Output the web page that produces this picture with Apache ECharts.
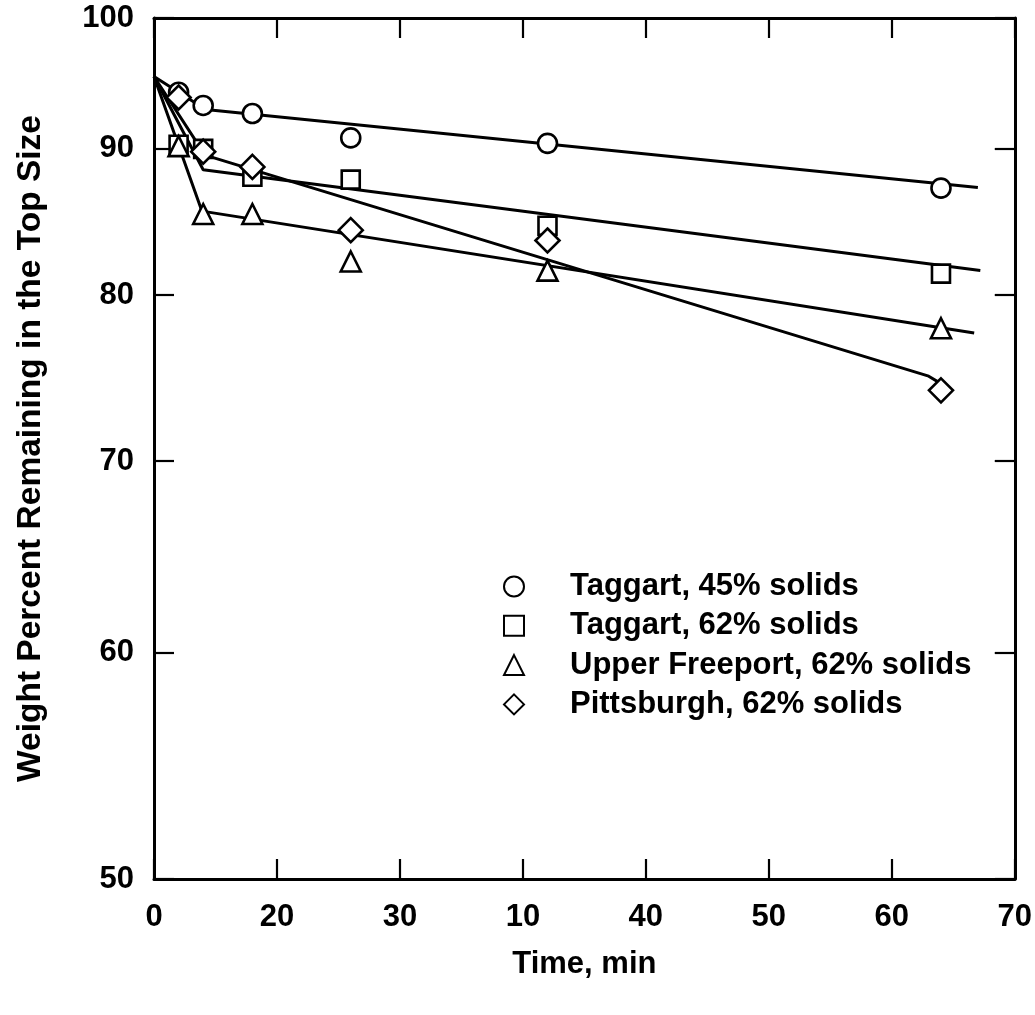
<!DOCTYPE html>
<html>
<head>
<meta charset="utf-8">
<script src="https://cdn.jsdelivr.net/npm/echarts@6/dist/echarts.min.js"></script>
<style>
  html, body { margin: 0; padding: 0; background: #fff; }
  #chart { width: 1035px; height: 1015px; }
</style>
</head>
<body>
<div id="chart"></div>
<script>
// ---- data ----
var times = [2, 4, 8, 16, 32, 64];
var taggart45 = [94.2, 93.2, 92.6, 90.8, 90.4, 87.2];
var taggart62 = [90.3, 90.0, 88.0, 87.8, 84.6, 81.4];
var upperFreeport62 = [90.2, 85.4, 85.4, 82.2, 81.6, 77.9];
var pittsburgh62 = [93.8, 89.8, 88.7, 84.3, 83.6, 74.1];

// fitted lines (x, y)
var fitTaggart45X = [0, 4.2, 67];
var fitTaggart45Y = [95.4, 92.9, 87.25];
var fitTaggart62X = [0, 4.0, 67.2];
var fitTaggart62Y = [95.4, 88.5, 81.6];
var fitUpperFreeportX = [0, 3.9, 66.7];
var fitUpperFreeportY = [95.4, 85.6, 77.6];
var fitPittsburghX = [0, 4.15, 63.0, 64];
var fitPittsburghY = [95.4, 89.55, 74.95, 74.5];

var seriesNames = ['Taggart, 45% solids', 'Taggart, 62% solids', 'Upper Freeport, 62% solids', 'Pittsburgh, 62% solids'];
var xTickLabels = ['0', '20', '30', '10', '40', '50', '60', '70'];
var yTickValues = [50, 60, 70, 80, 90, 100];

// ---- build ----
function pairs(xs, ys) { return xs.map(function (x, i) { return [x, ys[i]]; }); }

var FONT = 'Liberation Sans, Arial, Helvetica, sans-serif';
var INK = '#000';
var fs = 31;

var pointSets = [taggart45, taggart62, upperFreeport62, pittsburgh62];
var symbols = ['circle', 'rect', 'triangle', 'diamond'];
var symbolSizes = [19, 18, 20, 24];
var fits = [
  [fitTaggart45X, fitTaggart45Y],
  [fitTaggart62X, fitTaggart62Y],
  [fitUpperFreeportX, fitUpperFreeportY],
  [fitPittsburghX, fitPittsburghY]
];

var series = [];
fits.forEach(function (f, i) {
  series.push({
    type: 'line',
    name: 'fit' + i,
    data: pairs(f[0], f[1]),
    showSymbol: false,
    symbol: 'none',
    silent: true,
    lineStyle: { color: INK, width: 3 },
    z: 2
  });
});
pointSets.forEach(function (ys, i) {
  series.push({
    type: 'scatter',
    name: seriesNames[i],
    data: pairs(times, ys),
    symbol: symbols[i],
    symbolSize: symbolSizes[i],
    itemStyle: { color: '#fff', borderColor: INK, borderWidth: 2.6, opacity: 1 },
    z: 3
  });
});

var axisLineStyle = { color: INK, width: 3 };
var tickStyle = { color: INK, width: 2.2 };

var option = {
  animation: false,
  backgroundColor: '#fff',
  grid: { left: 154, right: 20, top: 18, bottom: 136, containLabel: false },
  legend: {
    data: seriesNames,
    orient: 'vertical',
    left: 498,
    top: 566,
    itemWidth: 20,
    itemHeight: 20,
    itemGap: 8.3,
    selectedMode: false,
    textStyle: { fontFamily: FONT, fontWeight: 'bold', fontSize: fs, color: INK, padding: [0, 0, 0, 41] }
  },
  xAxis: [
    {
      type: 'value',
      position: 'bottom',
      min: 0, max: 70, interval: 10,
      axisLine: { show: true, onZero: false, lineStyle: axisLineStyle },
      axisTick: { show: true, inside: true, length: 20, lineStyle: tickStyle },
      axisLabel: {
        show: true, margin: 23,
        fontFamily: FONT, fontWeight: 'bold', fontSize: fs, color: INK,
        formatter: function (v) { return xTickLabels[Math.round(v / 10)]; }
      },
      splitLine: { show: false },
      name: 'Time, min',
      nameLocation: 'middle',
      nameGap: 70,
      nameTextStyle: { fontFamily: FONT, fontWeight: 'bold', fontSize: fs, color: INK }
    },
    {
      type: 'value',
      position: 'top',
      min: 0, max: 70, interval: 10,
      axisLine: { show: true, onZero: false, lineStyle: axisLineStyle },
      axisTick: { show: true, inside: true, length: 20, lineStyle: tickStyle },
      axisLabel: { show: false },
      splitLine: { show: false }
    }
  ],
  yAxis: [
    {
      type: 'log',
      logBase: 10,
      position: 'left',
      min: 50, max: 100,
      axisLine: { show: true, onZero: false, lineStyle: axisLineStyle },
      axisTick: { show: true, inside: true, length: 20, lineStyle: tickStyle, customValues: yTickValues },
      axisLabel: {
        show: true, margin: 20, customValues: yTickValues,
        fontFamily: FONT, fontWeight: 'bold', fontSize: fs, color: INK,
        formatter: function (v) { return String(Math.round(v)); }
      },
      minorTick: { show: false },
      splitLine: { show: false },
      name: 'Weight Percent Remaining in the Top Size',
      nameLocation: 'middle',
      nameGap: 106,
      nameTextStyle: { fontFamily: FONT, fontWeight: 'bold', fontSize: 33.5, color: INK }
    },
    {
      type: 'log',
      logBase: 10,
      position: 'right',
      min: 50, max: 100,
      axisLine: { show: true, onZero: false, lineStyle: axisLineStyle },
      axisTick: { show: true, inside: true, length: 20, lineStyle: tickStyle, customValues: yTickValues },
      axisLabel: { show: false, customValues: yTickValues },
      splitLine: { show: false }
    }
  ],
  series: series
};

var chart = echarts.init(document.getElementById('chart'), null, { renderer: 'canvas' });
chart.setOption(option);
</script>
</body>
</html>
